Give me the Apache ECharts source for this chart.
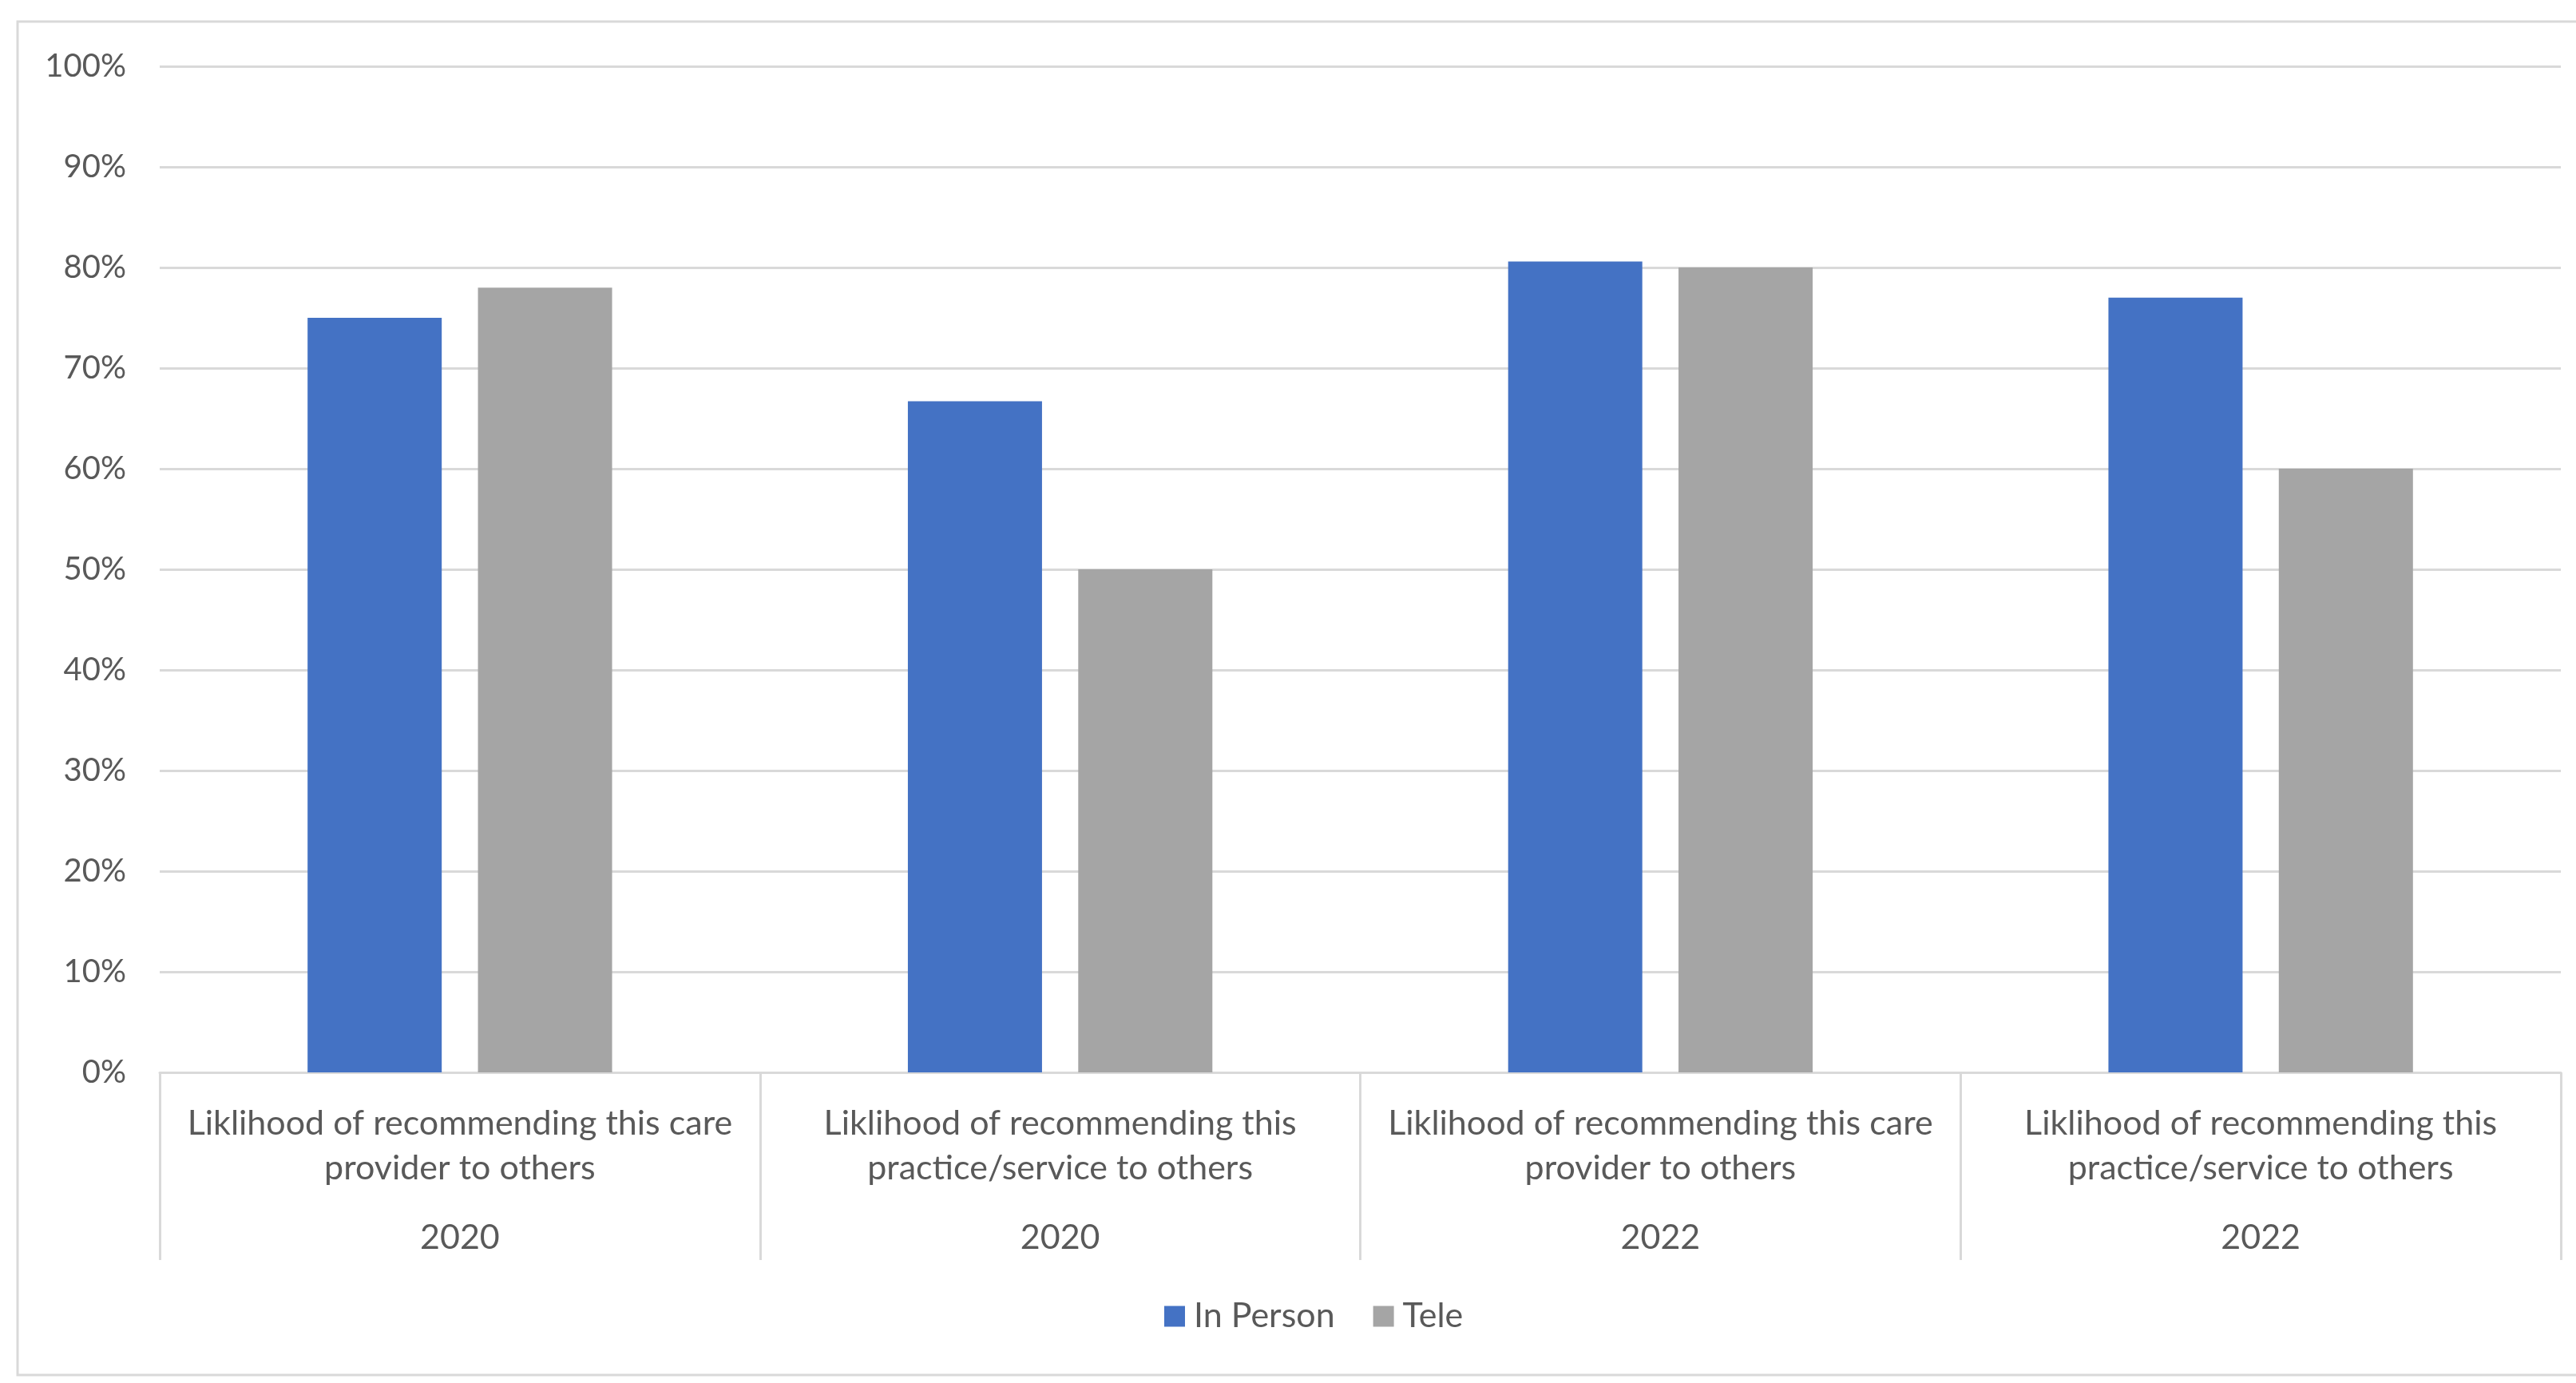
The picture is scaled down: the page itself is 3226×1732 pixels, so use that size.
<!DOCTYPE html>
<html>
<head>
<meta charset="utf-8">
<script src="https://cdn.jsdelivr.net/npm/echarts@6/dist/echarts.min.js"></script>
<style>
  html, body { margin: 0; padding: 0; background: #fff; }
  #main { width: 3226px; height: 1732px; }
</style>
</head>
<body>
<div id="main"></div>
<script>
// chart data
var categories = [
  'Liklihood of recommending this care\nprovider to others',
  'Liklihood of recommending this\npractice/service to others',
  'Liklihood of recommending this care\nprovider to others',
  'Liklihood of recommending this\npractice/service to others'
];
var years = ['2020', '2020', '2022', '2022'];
var inPerson = [75, 66.7, 80.6, 77];
var tele = [78, 50, 80, 60];
var yTicks = [0, 10, 20, 30, 40, 50, 60, 70, 80, 90, 100];

var textColor = '#595959';
var lineColor = '#D9D9D9';
var font = 'Lato';

var myChart = echarts.init(document.getElementById('main'));

var option = {
  backgroundColor: '#ffffff',
  animation: false,
  textStyle: { fontFamily: font },
  graphic: [{
    type: 'rect',
    shape: { x: 22, y: 27, width: 3300, height: 1695 },
    style: { fill: 'none', stroke: lineColor, lineWidth: 3 },
    silent: true
  }],
  grid: { left: 200, right: 19, top: 83, bottom: 389 },
  legend: {
    data: ['In Person', 'Tele'],
    left: 1453,
    top: 1622,
    padding: 5,
    icon: 'rect',
    itemWidth: 26,
    itemHeight: 26,
    itemGap: 48,
    textStyle: { color: textColor, fontSize: 43, fontFamily: font, padding: [0, 0, 0, 6] }
  },
  xAxis: {
    type: 'category',
    data: categories,
    axisLine: { lineStyle: { color: lineColor, width: 3 } },
    axisTick: { show: true, length: 235, lineStyle: { color: lineColor, width: 3 } },
    axisLabel: {
      interval: 0,
      margin: 36,
      color: textColor,
      formatter: function (value, idx) {
        var lines = value.split('\n');
        return '{a|' + lines[0] + '}\n{a|' + lines[1] + '}\n{y|' + years[idx] + '}';
      },
      rich: {
        a: { fontSize: 43, lineHeight: 56, color: textColor, fontFamily: font },
        y: { fontSize: 43, lineHeight: 118, color: textColor, fontFamily: font }
      }
    }
  },
  yAxis: {
    type: 'value',
    min: yTicks[0],
    max: yTicks[yTicks.length - 1],
    interval: 10,
    axisLine: { show: false },
    axisTick: { show: false },
    axisLabel: { formatter: '{value}%', color: textColor, fontSize: 40, margin: 42, fontFamily: font },
    splitLine: { lineStyle: { color: lineColor, width: 3 } }
  },
  series: [
    {
      name: 'In Person',
      type: 'bar',
      data: inPerson,
      barWidth: 168,
      barGap: '27%',
      itemStyle: { color: '#4472C4' }
    },
    {
      name: 'Tele',
      type: 'bar',
      data: tele,
      barWidth: 168,
      barGap: '27%',
      itemStyle: { color: '#A5A5A5' }
    }
  ]
};

myChart.setOption(option);
</script>
</body>
</html>
